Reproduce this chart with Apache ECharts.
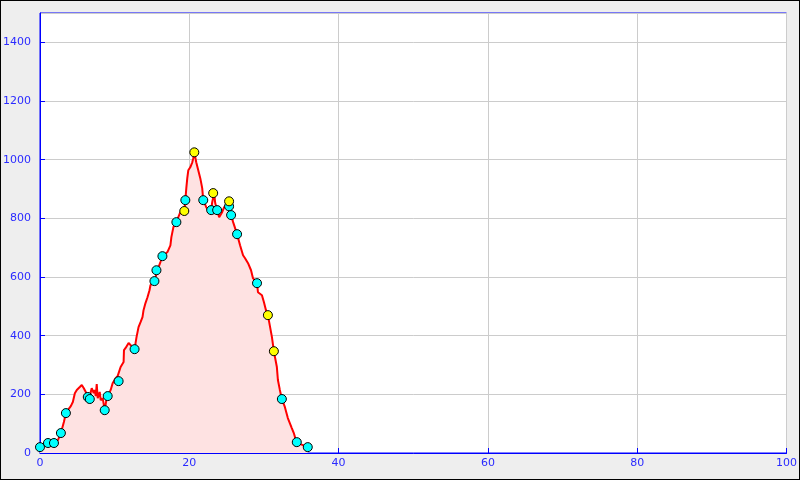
<!DOCTYPE html>
<html>
<head>
<meta charset="utf-8">
<script src="https://cdn.jsdelivr.net/npm/echarts@6/dist/echarts.min.js"></script>
<style>
html,body{margin:0;padding:0;background:#eee;}
#wrap{position:relative;width:800px;height:480px;}
#c{width:800px;height:480px;}
#frame{position:absolute;left:0;top:0;width:798px;height:478px;border:1px solid #000;pointer-events:none;}
</style>
</head>
<body>
<div id="wrap"><div id="c"></div><div id="frame"></div></div>
<script>
// profile line: distance (x) and elevation (y)
const profileX = [0,1.07,1.87,2.4,2.8,3.2,3.47,3.73,4.13,4.4,4.67,4.93,5.33,5.6,5.87,6.13,6.4,6.67,6.8,6.93,7.2,7.33,7.47,7.6,7.73,8.0,8.13,8.4,8.67,8.93,9.07,9.47,9.73,10.13,10.4,10.8,11.2,11.25,11.47,11.87,12.4,12.67,12.93,13.2,13.47,13.73,13.87,14.13,14.4,14.67,14.8,15.33,15.73,16.13,16.4,17.07,17.47,17.6,17.87,18.27,18.53,18.8,19.33,19.47,19.6,19.73,19.87,20.13,20.4,20.53,20.67,20.93,21.2,21.47,21.73,21.87,22.27,22.53,22.93,23.07,23.33,23.47,23.73,24.0,24.4,24.67,24.93,25.33,25.4,25.6,25.87,26.4,26.8,27.2,27.47,27.87,28.27,28.53,29.07,29.2,29.73,30.0,30.27,30.53,31.07,31.33,31.73,31.87,32.13,32.4,32.8,33.2,33.73,34.0,34.27,34.53,34.8,35.87];
const profileY = [20,34,34,44,68,106,136,146,160,174,204,215,225,232,221,208,191,184,208,221,204,215,194,235,187,208,180,187,146,187,194,215,238,255,262,293,310,351,358,375,361,354,395,429,446,463,487,511,531,555,572,586,623,651,671,685,708,736,770,787,804,821,821,862,903,937,964,974,991,1005,1025,991,964,937,903,862,838,828,828,855,886,852,828,804,821,838,845,858,838,811,787,746,708,674,664,647,623,596,579,548,538,514,487,470,395,347,293,249,215,184,157,119,85,68,44,37,31,20];
// cyan waypoints
const cyanX = [0,1.07,1.87,2.8,3.47,6.4,6.67,8.67,9.07,10.53,12.67,15.33,15.6,16.4,18.27,19.47,21.87,22.93,23.73,25.33,25.6,26.4,29.07,32.4,34.4,35.87];
const cyanY = [20,34,34,68,136,191,184,146,194,245,354,586,623,671,787,862,862,828,828,841,811,746,579,184,37,20];
// yellow waypoints
const yellowX = [19.33,20.67,23.2,25.33,30.53,31.33];
const yellowY = [825,1025,886,858,470,347];
// axis ticks
const xTicks = [0,20,40,60,80,100];
const yTicks = [0,200,400,600,800,1000,1200,1400];

const zip = (a,b)=>a.map((v,i)=>[v,b[i]]);
const blue = '#0000ff';
const labelColor = '#2a2aff';
const chart = echarts.init(document.getElementById('c'), null, {renderer:'canvas'});
chart.setOption({
  backgroundColor:'#eeeeee',
  animation:false,
  grid:{left:39,top:13,right:11,bottom:27,show:true,backgroundColor:'#ffffff',borderColor:blue,borderWidth:1},
  xAxis:{type:'value',min:xTicks[0],max:xTicks[xTicks.length-1],interval:20,
    axisLine:{show:true,lineStyle:{color:blue,width:1}},
    axisTick:{show:true,inside:true,length:5,lineStyle:{color:blue}},
    axisLabel:{color:labelColor,fontFamily:'DejaVu Sans',fontSize:11,margin:5},
    splitLine:{show:true,lineStyle:{color:'#cccccc',width:1}}},
  yAxis:{type:'value',min:0,max:1500,interval:200,
    axisLine:{show:true,lineStyle:{color:blue,width:1}},
    axisTick:{show:true,inside:true,length:5,lineStyle:{color:blue}},
    axisLabel:{color:labelColor,fontFamily:'DejaVu Sans',fontSize:11,margin:9,showMaxLabel:false,
      formatter:v=>yTicks.indexOf(v)>=0?String(v):''},
    splitLine:{show:true,lineStyle:{color:'#cccccc',width:1}}},
  series:[
    {type:'line',data:zip(profileX,profileY),showSymbol:false,symbol:'none',
      lineStyle:{color:'#ff0000',width:2},areaStyle:{color:'#fee2e2',opacity:1},z:2},
    {type:'scatter',data:zip(cyanX,cyanY),symbol:'circle',symbolSize:9,
      itemStyle:{color:'#00ffff',borderColor:'#000',borderWidth:1,opacity:1},z:3},
    {type:'scatter',data:zip(yellowX,yellowY),symbol:'circle',symbolSize:9,
      itemStyle:{color:'#ffff00',borderColor:'#000',borderWidth:1,opacity:1},z:4}
  ]
});
</script>
</body>
</html>
